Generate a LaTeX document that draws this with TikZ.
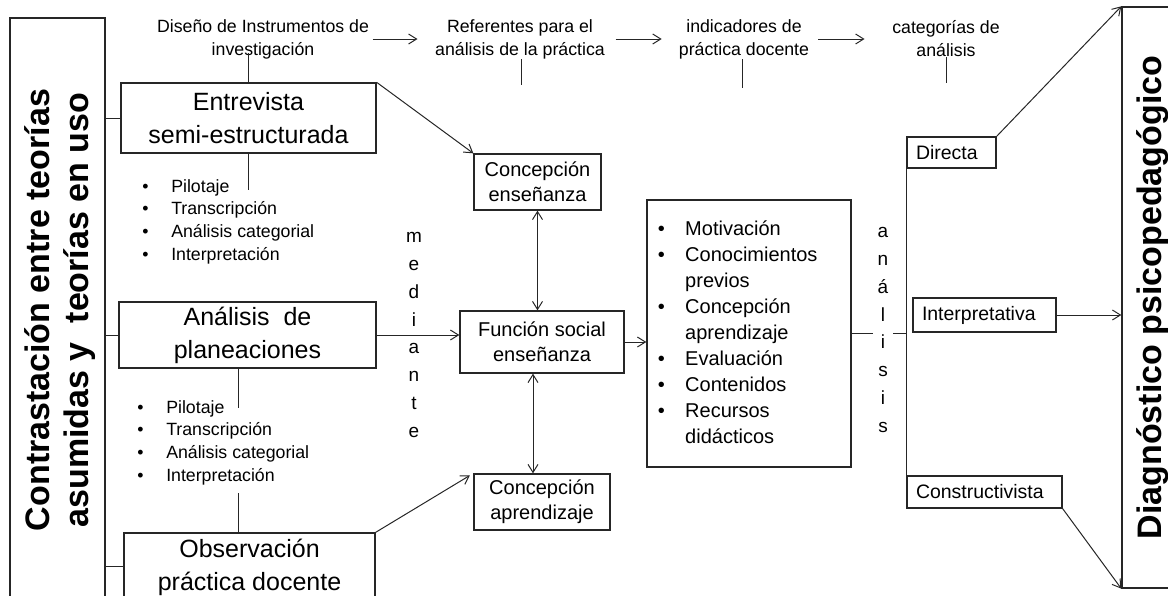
\documentclass[tikz,border=0pt]{standalone}
\usepackage{fontspec}
\setmainfont{Liberation Sans}
\usetikzlibrary{arrows.meta}
\newcommand{\mybul}[1]{\makebox[#1][l]{•}}
\begin{document}
\begin{tikzpicture}[x=0.75pt,y=-0.75pt,
  conn/.style={draw=black!85, line width=0.75pt},
  arr/.style={conn, -{Straight Barb[length=6pt,width=7.5pt]}},
  darr/.style={conn, {Straight Barb[length=6pt,width=7.5pt]}-{Straight Barb[length=6pt,width=7.5pt]}},
  boxline/.style={draw=black!85, line width=1pt, inner sep=2pt},
  lbl/.style={inner sep=0pt, align=center, font=\fontsize{13.3pt}{17.25pt}\selectfont},
  ttl/.style={boxline, align=center, font=\fontsize{18.75pt}{24.75pt}\selectfont},
  midbox/.style={boxline, align=center, font=\fontsize{15pt}{19pt}\selectfont},
  catbox/.style={boxline, align=left, inner xsep=6.75pt, inner ysep=0pt, font=\fontsize{14.6pt}{18pt}\selectfont},
  bigtxt/.style={inner sep=0pt, rotate=90, align=center, font=\fontsize{25.5pt}{29.25pt}\selectfont\bfseries},
  vlet/.style={inner sep=0pt, align=center, font=\fontsize{14.25pt}{20.8pt}\selectfont},
  ilist/.style={inner sep=0pt, anchor=base west, font=\fontsize{13.3pt}{17pt}\selectfont},
]
\useasboundingbox (0,0) rectangle (1168,596);
\clip (0,0) rectangle (1168,596);

% side frames
\node[boxline, minimum width=71.25pt, minimum height=451.5pt] (lframe) at (57.5,319) {};
\node[bigtxt] (ltxt) at (60.5,310) {Contrastación entre teorías\\asumidas y\ \ teorías en uso};
\node[boxline, minimum width=51pt, minimum height=435.75pt] (rframe) at (1156,297.5) {};
\node[bigtxt] (rtxt) at (1153,297.5) {Diagnóstico psicopedagógico};

% top labels
\node[lbl] (dis) at (263,39) {Diseño de Instrumentos de\\investigación};
\node[lbl] (ref) at (520,39) {Referentes para el\\análisis de la práctica};
\node[lbl] (ind) at (744,39) {indicadores de\\práctica docente};
\node[lbl] (cat) at (946,39) {categorías de\\análisis};

% left column
\node[ttl, minimum width=191.25pt, minimum height=52.5pt] (ent) at (248.5,118) {Entrevista\\semi-estructurada};
\node[ttl, minimum width=192.75pt, minimum height=49.5pt] (ana) at (247.5,335) {Análisis\ \ de\\planeaciones};
\node[boxline, minimum width=188.25pt, minimum height=72.75pt] (obs) at (249.5,581.5) {};
\node[inner sep=0pt, align=center, font=\fontsize{18.75pt}{24.75pt}\selectfont] (obstxt) at (249.5,567.5) {Observación\\práctica docente};

\node[ilist] (list1) at (142,192) {\vtop{\hbox{\mybul{21.75pt}Pilotaje}\hbox{\mybul{21.75pt}Transcripción}\hbox{\mybul{21.75pt}Análisis categorial}\hbox{\mybul{21.75pt}Interpretación}}};
\node[ilist] (list2) at (137,413) {\vtop{\hbox{\mybul{21.75pt}Pilotaje}\hbox{\mybul{21.75pt}Transcripción}\hbox{\mybul{21.75pt}Análisis categorial}\hbox{\mybul{21.75pt}Interpretación}}};

% middle
\node[midbox, minimum width=95.25pt, minimum height=42pt] (ce) at (537.5,182) {Concepción\\enseñanza};
\node[midbox, minimum width=123pt, minimum height=46.5pt] (fs) at (542,342) {Función social\\enseñanza};
\node[midbox, minimum width=102pt, minimum height=42pt] (ca) at (542,502) {Concepción\\aprendizaje};
\node[vlet] (med) at (414,335) {m\\e\\d\\i\\a\\n\\t\\e};

\node[boxline, minimum width=153pt, minimum height=200.25pt] (lst) at (749,333.5) {};
\node[inner sep=0pt, anchor=base west, font=\fontsize{15pt}{19.5pt}\selectfont] (lsttxt) at (657.5,235) {\vtop{%
  \hbox{\mybul{20.6pt}Motivación}%
  \hbox{\mybul{20.6pt}Conocimientos}%
  \hbox{\hspace*{20.6pt}previos}%
  \hbox{\mybul{20.6pt}Concepción}%
  \hbox{\hspace*{20.6pt}aprendizaje}%
  \hbox{\mybul{20.6pt}Evaluación}%
  \hbox{\mybul{20.6pt}Contenidos}%
  \hbox{\mybul{20.6pt}Recursos}%
  \hbox{\hspace*{20.6pt}didácticos}}};

% categories
\node[catbox, text width=53.25pt, minimum height=23.25pt] (dir) at (951.5,152.5) {Directa};
\node[catbox, text width=93.75pt, minimum height=25.5pt] (int) at (984.5,315) {Interpretativa};
\node[catbox, text width=102.75pt, minimum height=24pt] (con) at (984.5,492) {Constructivista};

% stub coordinates
\coordinate (disfoot) at (248.5,53);
\coordinate (entfoot) at (248.5,190);
\coordinate (anastub) at (238,408);
\coordinate (obsstub) at (238,493);
\coordinate (refstub) at (521,85);
\coordinate (indstub) at (742,88);
\coordinate (catstub) at (946,83);
\coordinate (obsleft) at (124,566);

\draw[conn] (ent.north) -- (disfoot);
\draw[conn] (ent.south) -- (entfoot);
\draw[conn] (ana.south -| anastub) -- (anastub);
\draw[conn] (obs.north -| obsstub) -- (obsstub);
\draw[conn] (ref.south -| refstub) -- (refstub);
\draw[conn] (ind.south -| indstub) -- (indstub);
\draw[conn] (cat.south -| catstub) -- (catstub);

\draw[conn] (lframe.east |- ent.west) -- (ent.west);
\draw[conn] (lframe.east |- ana.west) -- (ana.west);
\draw[conn] (lframe.east |- obsleft) -- (obsleft);

\draw[arr, shorten <=2.6pt, shorten >=13.1pt] (dis.east) -- (ref.west);
\draw[arr, shorten <=7.9pt, shorten >=12.75pt] (ref.east) -- (ind.west);
\draw[arr, shorten <=6.75pt, shorten >=20.6pt] (ind.east) -- (cat.west);

\draw[arr] (ent.north east) -- (ce.north west);
\draw[arr, shorten >=3pt] (obs.north east) -- (ca.north west);
\draw[darr] (ce.south) -- (ce.south |- fs.north);
\draw[darr] ([xshift=-6.75pt]fs.south) -- ([xshift=-6.75pt]fs.south |- ca.north);
\draw[arr] (ana.east) -- (ana.east -| fs.west);
\draw[arr] (fs.east) -- (fs.east -| lst.west);
\draw[conn] (lst.east) -- (lst.east -| con.west);
\draw[conn] (dir.south west) -- (con.north west);
\draw[arr] (dir.north east) -- (rframe.north west);
\draw[arr] (int.east) -- (int.east -| rframe.west);
\draw[arr] (con.south east) -- (rframe.south west);

\node[vlet, fill=white, inner xsep=3.5pt] (anl) at (883,330) {a\\n\\á\\l\\i\\s\\i\\s};
\end{tikzpicture}
\end{document}
